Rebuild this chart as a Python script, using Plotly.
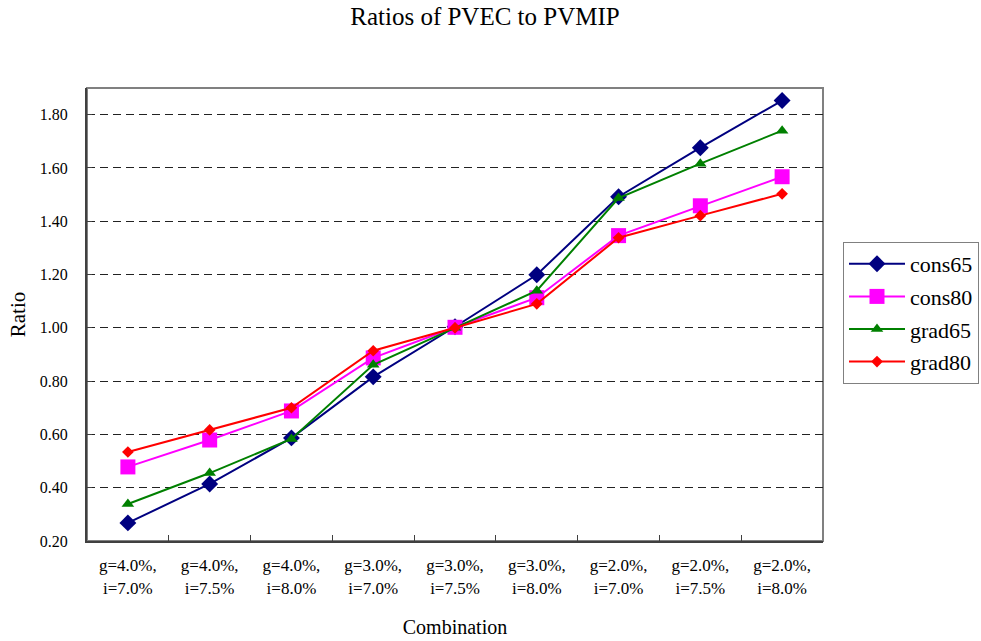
import plotly.graph_objects as go

categories = ["g=4.0%,<br>i=7.0%", "g=4.0%,<br>i=7.5%", "g=4.0%,<br>i=8.0%",
              "g=3.0%,<br>i=7.0%", "g=3.0%,<br>i=7.5%", "g=3.0%,<br>i=8.0%",
              "g=2.0%,<br>i=7.0%", "g=2.0%,<br>i=7.5%", "g=2.0%,<br>i=8.0%"]
cons65 = [0.268, 0.414, 0.587, 0.816, 1.004, 1.199, 1.492, 1.676, 1.853]
cons80 = [0.478, 0.579, 0.688, 0.887, 1.002, 1.113, 1.346, 1.458, 1.567]
grad65 = [0.339, 0.455, 0.583, 0.861, 1.000, 1.139, 1.487, 1.616, 1.740]
grad80 = [0.534, 0.617, 0.700, 0.914, 1.000, 1.090, 1.338, 1.421, 1.503]
y_ticks = [0.2, 0.4, 0.6, 0.8, 1.0, 1.2, 1.4, 1.6, 1.8]

FONT = "Liberation Serif, Times New Roman, serif"
W, H = 981, 641

series = [
    ("cons65", cons65, "#000080", "diamond", 13),
    ("cons80", cons80, "#FF00FF", "square", 15),
    ("grad65", grad65, "#008000", "triangle-up", 11),
    ("grad80", grad80, "#FF0000", "diamond", 9),
]

fig = go.Figure()
for name, vals, col, sym, sz in series:
    fig.add_trace(go.Scatter(
        x=categories, y=vals, name=name, mode="lines+markers",
        legendgroup=name,
        line=dict(color=col, width=2),
        marker=dict(color=col, symbol=sym, size=sz, line=dict(width=0)),
    ))

fig.update_layout(
    width=W, height=H,
    margin=dict(l=87, r=158, t=88, b=100),
    paper_bgcolor="white", plot_bgcolor="white",
    font=dict(family=FONT, color="black", size=16),
    title=dict(text="Ratios of PVEC to PVMIP", xref="container", x=485 / W,
               xanchor="center", yref="container", y=1 - 16 / H,
               yanchor="middle", font=dict(size=25, family=FONT)),
    legend=dict(xref="container", yref="container",
                x=843 / W, y=1 - 242 / H, xanchor="left", yanchor="top",
                bordercolor="#808080", borderwidth=1, itemwidth=56,
                tracegroupgap=1,
                font=dict(size=22, family=FONT), bgcolor="white"),
    showlegend=True,
)
fig.update_xaxes(
    type="category", range=[-0.5, 8.5], automargin=False,
    showgrid=False, showline=True, linecolor="#404040", linewidth=2,
    ticks="inside", tickson="boundaries", ticklen=6, tickcolor="#404040",
    ticklabelstandoff=8,
    title=dict(text="Combination", font=dict(size=20, family=FONT), standoff=23),
    tickfont=dict(size=17, family=FONT),
)
fig.update_yaxes(
    range=[0.2, 1.9], tickvals=y_ticks, tickformat=".2f", automargin=False,
    showgrid=True, gridcolor="#222222", griddash="8px,5px", gridwidth=1,
    showline=True, linecolor="#404040", linewidth=2,
    ticks="inside", ticklen=5, tickcolor="#404040",
    ticklabelstandoff=14,
    zeroline=False,
    title=dict(text="Ratio", font=dict(size=21, family=FONT), standoff=8),
    tickfont=dict(size=16, family=FONT),
)
fig.add_shape(type="rect", xref="paper", yref="paper", x0=0, x1=1, y0=0, y1=1,
              line=dict(color="#808080", width=2), layer="below")

fig.write_html("out.html",
               config={"displayModeBar": False},
               post_script="document.body.style.margin='0';"
                           "document.body.style.overflow='hidden';")
